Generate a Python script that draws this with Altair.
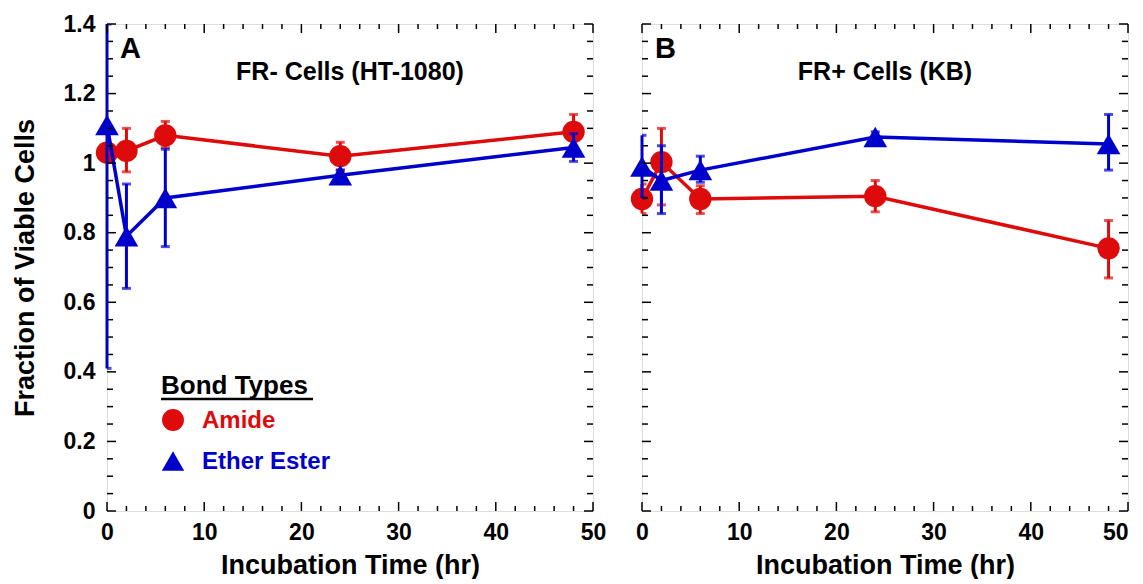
import altair as alt
import pandas as pd

# ---------------- data ----------------
time = [0, 2, 6, 24, 48]

a_amide = [1.03, 1.035, 1.08, 1.02, 1.09]
a_amide_lo = [1.01, 0.975, 1.045, 0.98, 1.04]
a_amide_hi = [1.05, 1.10, 1.12, 1.06, 1.14]
a_ether = [1.11, 0.79, 0.90, 0.965, 1.045]
a_ether_lo = [0.41, 0.64, 0.76, 0.95, 1.005]
a_ether_hi = [1.81, 0.94, 1.04, 0.98, 1.085]

b_amide = [0.897, 1.003, 0.897, 0.905, 0.755]
b_amide_lo = [0.855, 0.88, 0.855, 0.86, 0.67]
b_amide_hi = [0.94, 1.10, 0.935, 0.95, 0.835]
b_ether = [0.99, 0.95, 0.98, 1.075, 1.055]
b_ether_lo = [0.90, 0.855, 0.945, 1.06, 0.98]
b_ether_hi = [1.08, 1.05, 1.02, 1.09, 1.14]

bonds = ["Amide", "Ether Ester"]
panel_titles = {"A": "FR- Cells (HT-1080)", "B": "FR+ Cells (KB)"}

x_major = [0, 10, 20, 30, 40, 50]
x_minor = [v for v in range(0, 51, 2) if v % 10 != 0]
y_major = [0, 0.2, 0.4, 0.6, 0.8, 1.0, 1.2, 1.4]
y_minor = [round(i * 0.05, 2) for i in range(29) if i % 4 != 0]

RED = "#DD0B0B"
BLUE = "#0000CC"
FONT = "Liberation Sans"
W, H = 486, 487

rows = []
for panel, series in {
    "A": [("Amide", a_amide, a_amide_lo, a_amide_hi), ("Ether Ester", a_ether, a_ether_lo, a_ether_hi)],
    "B": [("Amide", b_amide, b_amide_lo, b_amide_hi), ("Ether Ester", b_ether, b_ether_lo, b_ether_hi)],
}.items():
    for bond, vals, los, his in series:
        for t, v, lo, hi in zip(time, vals, los, his):
            rows.append(dict(panel=panel, bond=bond, time=t, value=v, lo=lo, hi=hi))
df = pd.DataFrame(rows)

xs = alt.Scale(domain=[0, 50], nice=False, zero=False, padding=0)
ys = alt.Scale(domain=[0, 1.4], nice=False, zero=False, padding=0, clamp=True)

x_common = dict(values=x_major, ticks=False, domain=False, grid=False, labelFlush=False,
                labelFont=FONT, labelFontSize=23, labelFontWeight="bold", labelColor="black",
                labelPadding=10, title="Incubation Time (hr)", titleFont=FONT,
                titleFontSize=27, titleFontWeight="bold", titleColor="black", titlePadding=8)
x_axis_left = alt.Axis(**x_common)
x_axis_right = alt.Axis(labelAlign={"condition": {"test": "datum.value == 50", "value": "right"},
                                    "value": "center"}, **x_common)
y_axis = alt.Axis(values=y_major, ticks=False, domain=False, grid=False, format="~g", labelFlush=False,
                  labelFont=FONT, labelFontSize=23, labelFontWeight="bold", labelColor="black",
                  labelPadding=12, title="Fraction of Viable Cells", titleFont=FONT,
                  titleFontSize=27, titleFontWeight="bold", titleColor="black", titlePadding=24)


def X(field, show):
    return alt.X(f"{field}:Q", scale=xs, axis=x_axis_left if show else x_axis_right,
                 title="Incubation Time (hr)")


def Y(field, show):
    if show:
        return alt.Y(f"{field}:Q", scale=ys, axis=y_axis, title="Fraction of Viable Cells")
    return alt.Y(f"{field}:Q", scale=ys, axis=None)


def panel(pid, show_y):
    d = df[df.panel == pid]
    layers = []
    for bond, color, shape, size in [("Amide", RED, "circle", 500), ("Ether Ester", BLUE, "triangle-up", 560)]:
        db = alt.Chart(d).transform_filter(alt.datum.bond == bond)
        layers.append(db.mark_line(color=color, strokeWidth=3.5).encode(x=X("time", show_y), y=Y("value", show_y)))
        layers.append(db.mark_rule(color=color, strokeWidth=3).encode(
            x=X("time", show_y), y=Y("lo", show_y), y2="hi:Q"))
        layers.append(db.mark_tick(color=color, orient="horizontal", size=9, thickness=3, clip=True).encode(
            x=X("time", show_y), y=Y("hi", show_y)))
        layers.append(db.mark_tick(color=color, orient="horizontal", size=9, thickness=3, clip=True).encode(
            x=X("time", show_y), y=Y("lo", show_y)))
        layers.append(db.mark_point(shape=shape, filled=True, size=size, color=color, opacity=1, strokeWidth=0).encode(
            x=X("time", show_y), y=Y("value", show_y)))

    # inward frame ticks
    for vals, ln in [(y_major, 9), (y_minor, 6)]:
        t = alt.Chart(pd.DataFrame({"v": vals}))
        layers.append(t.mark_rule(color="black", strokeWidth=1.5).encode(
            y=Y("v", show_y), x=alt.value(0), x2=alt.value(ln)))
        layers.append(t.mark_rule(color="black", strokeWidth=1.5).encode(
            y=Y("v", show_y), x=alt.value(W), x2=alt.value(W - ln)))
    for vals, ln in [(x_major, 9), (x_minor, 5)]:
        t = alt.Chart(pd.DataFrame({"v": vals}))
        layers.append(t.mark_rule(color="black", strokeWidth=1.5).encode(
            x=X("v", show_y), y=alt.value(H), y2=alt.value(H - ln)))
        layers.append(t.mark_rule(color="black", strokeWidth=1.5).encode(
            x=X("v", show_y), y=alt.value(0), y2=alt.value(ln)))

    # panel letter and title
    layers.append(alt.Chart(pd.DataFrame({"t": [pid]})).mark_text(
        font=FONT, fontSize=29, fontWeight="bold", align="left", baseline="middle", color="black").encode(
        text="t:N", x=alt.value(13), y=alt.value(25)))
    layers.append(alt.Chart(pd.DataFrame({"t": [panel_titles[pid]]})).mark_text(
        font=FONT, fontSize=25, fontWeight="bold", align="center", baseline="middle", color="black").encode(
        text="t:N", x=alt.value(W / 2), y=alt.value(48)))

    if pid == "A":
        layers.append(alt.Chart(pd.DataFrame({"t": ["Bond Types"]})).mark_text(
            font=FONT, fontSize=26, fontWeight="bold", align="left", baseline="middle", color="black").encode(
            text="t:N", x=alt.value(54), y=alt.value(362)))
        layers.append(alt.Chart(pd.DataFrame({"t": ["Bond Types"]})).mark_rule(color="black", strokeWidth=2.5).encode(
            x=alt.value(54), x2=alt.value(206), y=alt.value(375)))
        for i, (bond, color, shape, size) in enumerate([("Amide", RED, "circle", 480), ("Ether Ester", BLUE, "triangle-up", 500)]):
            yy = 396 + i * 41
            layers.append(alt.Chart(pd.DataFrame({"t": [bond]})).mark_point(
                shape=shape, filled=True, size=size, color=color, opacity=1, strokeWidth=0).encode(
                x=alt.value(66), y=alt.value(yy)))
            layers.append(alt.Chart(pd.DataFrame({"t": [bond]})).mark_text(
                font=FONT, fontSize=24, fontWeight="bold", align="left", baseline="middle", color=color).encode(
                text="t:N", x=alt.value(95), y=alt.value(yy + 1)))

    return alt.layer(*layers).properties(width=W, height=H)


chart = alt.hconcat(panel("A", True), panel("B", False), spacing=22).properties(
    padding={"left": 2, "top": 4, "right": 0, "bottom": 0}
).configure_view(stroke="black", strokeWidth=2).configure(background="white")

chart.save("out.html", embed_options={"renderer": "svg", "actions": False})
